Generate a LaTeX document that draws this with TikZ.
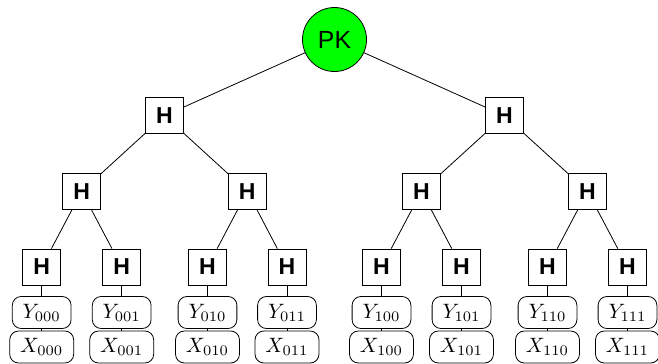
\documentclass[tikz,border=0pt]{standalone}
\usepackage{graphicx}
\usepackage{fontspec}
\setsansfont{Liberation Sans}
\newcommand{\leaftext}[1]{\scalebox{1.3}{#1}}
\begin{document}
\begin{tikzpicture}[x=0.625pt,y=-0.625pt,
  every path/.style={line width=0.5pt},
  rootnode/.style={circle,draw,fill=green,minimum size=40pt,inner sep=0pt,font=\sffamily\fontsize{15.5}{18}\selectfont},
  hbox/.style={rectangle,draw,minimum width=23.75pt,minimum height=22.5pt,inner sep=0pt,font=\sffamily\bfseries\Large},
  leaf/.style={rectangle,draw,rounded corners=5.5pt,minimum height=20pt,inner ysep=0pt,inner xsep=6.5pt},
  link/.style={draw}]
\useasboundingbox (0,0) rectangle (658,363);
\node[rootnode] (pk) at (334.5,39.5) {PK};
\node[hbox] (h0) at (164.5,115.7) {H};
\node[hbox] (h1) at (504.5,115.7) {H};
\node[hbox] (h00) at (81.7,191.3) {H};
\node[hbox] (h01) at (247.3,191.3) {H};
\node[hbox] (h10) at (421.5,191.3) {H};
\node[hbox] (h11) at (587.5,191.3) {H};
\foreach \n/\x in {000/41.7,001/121.7,010/207.5,011/287,100/381.5,101/461.5,110/547.5,111/627.5}{
  \node[hbox] (h\n) at (\x,267) {H};
  \node[leaf] (y\n) at (\x,312.5) {\leaftext{$Y_{\n}$}};
  \node[leaf] (x\n) at (\x,347) {\leaftext{$X_{\n}$}};
  \draw (h\n) -- (y\n);
  \draw (y\n) -- (x\n);
}
\draw (pk) -- (h0);
\draw (pk) -- (h1);
\draw (h0) -- (h00);
\draw (h0) -- (h01);
\draw (h1) -- (h10);
\draw (h1) -- (h11);
\draw (h00) -- (h000);
\draw (h00) -- (h001);
\draw (h01) -- (h010);
\draw (h01) -- (h011);
\draw (h10) -- (h100);
\draw (h10) -- (h101);
\draw (h11) -- (h110);
\draw (h11) -- (h111);
\end{tikzpicture}
\end{document}
